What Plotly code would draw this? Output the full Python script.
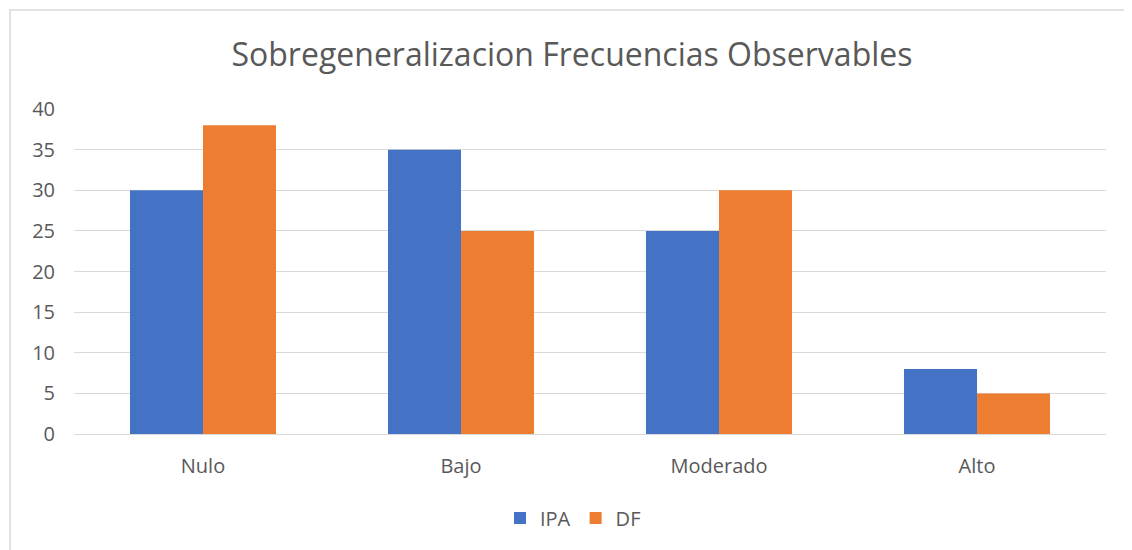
import plotly.graph_objects as go

categories = ["Nulo", "Bajo", "Moderado", "Alto"]
ipa_values = [30, 35, 25, 8]
df_values = [38, 25, 30, 5]
y_ticks = [0, 5, 10, 15, 20, 25, 30, 35, 40]

font_family = "Open Sans, Liberation Sans, sans-serif"
gray = "#595959"

W, H = 1124, 542
L, T = 66, 101
PW, PH = 1032, 325

fig = go.Figure()
fig.add_trace(go.Bar(name="IPA", x=categories, y=ipa_values, marker_color="#4472C4", marker_line_width=0))
fig.add_trace(go.Bar(name="DF", x=categories, y=df_values, marker_color="#ED7D31", marker_line_width=0))

fig.update_layout(
    width=W, height=H,
    margin=dict(l=L, r=W - L - PW, t=T, b=H - T - PH),
    paper_bgcolor="white", plot_bgcolor="white",
    barmode="group", bargap=0.434, bargroupgap=0,
    font=dict(family=font_family, color=gray, size=20),
    title=dict(text="Sobregeneralizacion Frecuencias Observables", x=(572 - 8) / W, xanchor="center",
               y=1 - 47 / H, yanchor="middle", font=dict(size=32, color=gray)),
    legend=dict(orientation="h", x=(573 - 8 - L) / PW, xanchor="center", y=(PH + T - 510) / PH, yanchor="middle",
                font=dict(size=20, color=gray), itemwidth=30, traceorder="normal"),
    xaxis=dict(showgrid=False, showline=True, linecolor="#d9d9d9", linewidth=1,
               ticks="", ticklabelstandoff=14, tickfont=dict(size=20, color=gray)),
    yaxis=dict(range=[0, 40], tickvals=y_ticks, showgrid=True, gridcolor="#d9d9d9", gridwidth=1,
               zeroline=False, showline=False, ticks="", ticklabelstandoff=18,
               tickfont=dict(size=20, color=gray)),
    shapes=[dict(type="rect", xref="paper", yref="paper",
                 x0=(2 - L) / PW, x1=(W + 20 - L) / PW, y0=-0.5, y1=1 + (T - 2) / PH,
                 line=dict(color="#d9d9d9", width=1.5), fillcolor="rgba(0,0,0,0)", layer="below")],
)

fig.write_html("out.html")
